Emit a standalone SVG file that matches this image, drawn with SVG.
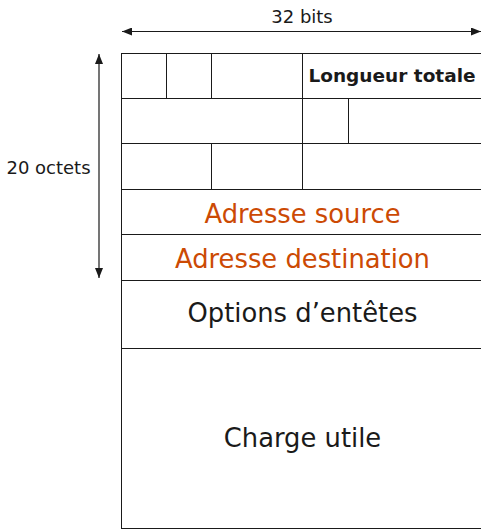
<svg xmlns="http://www.w3.org/2000/svg" width="481" height="530" viewBox="0 0 481 530">
  <style>
    .cell { fill: #ffffff; stroke: #1a1a1a; stroke-width: 1; }
    .lbl { font-family: "DejaVu Sans", "Liberation Sans", sans-serif; fill: #1a1a1a; text-anchor: middle; }
    .big { font-size: 25.8px; }
    .alert { fill: #cc4a04; }
    .small { font-size: 18px; }
    .bold { font-weight: bold; font-size: 18.5px; }
    .dim { stroke: #1a1a1a; stroke-width: 1.2; fill: none; }
  </style>
  <defs>
    <marker id="tip" viewBox="0 0 10 8" refX="10" refY="4" markerWidth="10" markerHeight="8" markerUnits="userSpaceOnUse" orient="auto-start-reverse">
      <path d="M0,0 L10,4 L0,8 Z" fill="#1a1a1a"/>
    </marker>
  </defs>

  <rect x="0" y="0" width="481" height="530" fill="#ffffff"/>

  <!-- header row 1 -->
  <g id="r1-a"><rect class="cell" x="121.5" y="53.5" width="45" height="45"/></g>
  <g id="r1-b"><rect class="cell" x="166.5" y="53.5" width="45" height="45"/></g>
  <g id="r1-c"><rect class="cell" x="211.5" y="53.5" width="91" height="45"/></g>
  <g id="r1-len">
    <rect class="cell" x="302.5" y="53.5" width="184" height="45"/>
    <text class="lbl bold" x="392" y="82">Longueur totale</text>
  </g>

  <!-- header row 2 -->
  <g id="r2-a"><rect class="cell" x="121.5" y="98.5" width="181" height="45"/></g>
  <g id="r2-b"><rect class="cell" x="302.5" y="98.5" width="46" height="45"/></g>
  <g id="r2-c"><rect class="cell" x="348.5" y="98.5" width="138" height="45"/></g>

  <!-- header row 3 -->
  <g id="r3-a"><rect class="cell" x="121.5" y="143.5" width="90" height="46"/></g>
  <g id="r3-b"><rect class="cell" x="211.5" y="143.5" width="91" height="46"/></g>
  <g id="r3-c"><rect class="cell" x="302.5" y="143.5" width="184" height="46"/></g>

  <!-- addresses -->
  <g id="src">
    <rect class="cell" x="121.5" y="189.5" width="365" height="45"/>
    <text class="lbl big alert" x="302.5" y="222.5">Adresse source</text>
  </g>
  <g id="dst">
    <rect class="cell" x="121.5" y="234.5" width="365" height="46"/>
    <text class="lbl big alert" x="302.5" y="267.5">Adresse destination</text>
  </g>

  <!-- options -->
  <g id="opts">
    <rect class="cell" x="121.5" y="280.5" width="365" height="68"/>
    <text class="lbl big" x="302.5" y="322">Options d’entêtes</text>
  </g>

  <!-- payload -->
  <g id="payload">
    <rect class="cell" x="121.5" y="348.5" width="365" height="180"/>
    <text class="lbl big" x="302.5" y="446.5">Charge utile</text>
  </g>

  <!-- dimension arrows -->
  <g id="connectors">
    <line class="dim" x1="122" y1="31.5" x2="481" y2="31.5" marker-start="url(#tip)" marker-end="url(#tip)"/>
    <line class="dim" x1="99" y1="54" x2="99" y2="278" marker-start="url(#tip)" marker-end="url(#tip)"/>
  </g>
  <text class="lbl small" x="302" y="23">32 bits</text>
  <text class="lbl small" x="48.5" y="174">20 octets</text>
</svg>
